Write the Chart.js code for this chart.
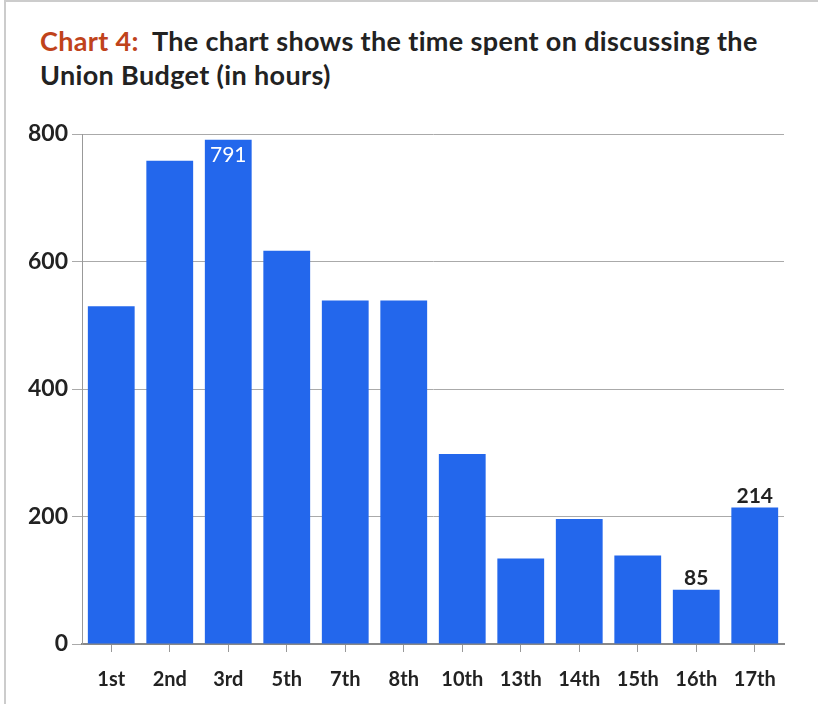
<!DOCTYPE html>
<html>
<head>
<meta charset="utf-8">
<script src="https://cdn.jsdelivr.net/npm/chart.js@4.4.0/dist/chart.umd.min.js"></script>
<style>
  body { margin: 0; background: #fff; }
  #wrap { position: relative; height: 704px; border-left: 2px solid #ccc; border-top: 2px solid #ccc; box-sizing: border-box; margin-left: 4px; width: 814px; }
  #title { position: absolute; left: 34px; top: 22px; font-family: Lato, sans-serif; font-size: 27px; line-height: 34px; color: #222; font-weight: bold; letter-spacing: 0.35px; }
  #title span { color: #c0431b; }
  #box { position: absolute; left: -6px; top: 98px; width: 818px; height: 606px; }
</style>
</head>
<body>
<div id="wrap">
  <div id="title"><span>Chart 4:</span>&nbsp; The chart shows the time spent on discussing the<br>Union Budget (in hours)</div>
  <div id="box"><canvas id="budget"></canvas></div>
</div>
<script>
// time spent on the union budget, by lok sabha
var sabhas = ['1st', '2nd', '3rd', '5th', '7th', '8th', '10th', '13th', '14th', '15th', '16th', '17th'];
var hours = [530, 758, 791, 617, 539, 539, 298, 134, 196, 139, 85, 214];
var yTicks = [0, 200, 400, 600, 800];
// which bars carry a value label, and where
var labelAt = { 2: 'inside', 10: 'above', 11: 'above' };

var valueLabels = {
	id: 'valueLabels',
	afterDatasetsDraw: function (chart) {
		var ctx = chart.ctx;
		var meta = chart.getDatasetMeta(0);
		ctx.save();
		ctx.textAlign = 'center';
		meta.data.forEach(function (bar, i) {
			var pos = labelAt[i];
			if (!pos) return;
			if (pos === 'inside') {
				ctx.font = '21px Lato';
				ctx.fillStyle = '#fff';
				ctx.textBaseline = 'top';
				ctx.fillText(hours[i], bar.x, bar.y + 5);
			} else {
				ctx.font = 'bold 21px Lato';
				ctx.fillStyle = '#222';
				ctx.textBaseline = 'bottom';
				ctx.fillText(hours[i], bar.x, bar.y - 1);
			}
		});
		ctx.restore();
	}
};

var ctx = document.getElementById('budget').getContext('2d');
var chart = new Chart(ctx, {
	type: 'bar',
	data: {
		labels: sabhas,
		datasets: [{
			data: hours,
			backgroundColor: '#2367ec',
			barPercentage: 0.8,
			categoryPercentage: 1
		}]
	},
	options: {
		responsive: true,
		maintainAspectRatio: false,
		animation: false,
		layout: { padding: { top: 34, right: 34 } },
		plugins: { legend: { display: false }, tooltip: { enabled: false } },
		scales: {
			x: {
				grid: { display: true, drawOnChartArea: false, tickLength: 8, color: '#999', offset: false },
				border: { color: '#888', width: 2 },
				ticks: { color: '#222', font: { family: 'Lato', size: 20, weight: 'bold' }, padding: 16, maxRotation: 0, autoSkip: false },
				afterFit: function (s) { s.height = 62; }
			},
			y: {
				min: 0,
				max: 800,
				afterBuildTicks: function (s) { s.ticks = yTicks.map(function (v) { return { value: v }; }); },
				grid: { color: '#aaa', tickLength: 10 },
				border: { color: '#999', width: 1 },
				ticks: { color: '#222', font: { family: 'Lato', size: 23, weight: 'bold' }, padding: 4 },
				afterFit: function (s) { s.width = 82; }
			}
		}
	},
	plugins: [valueLabels]
});
</script>
</body>
</html>
